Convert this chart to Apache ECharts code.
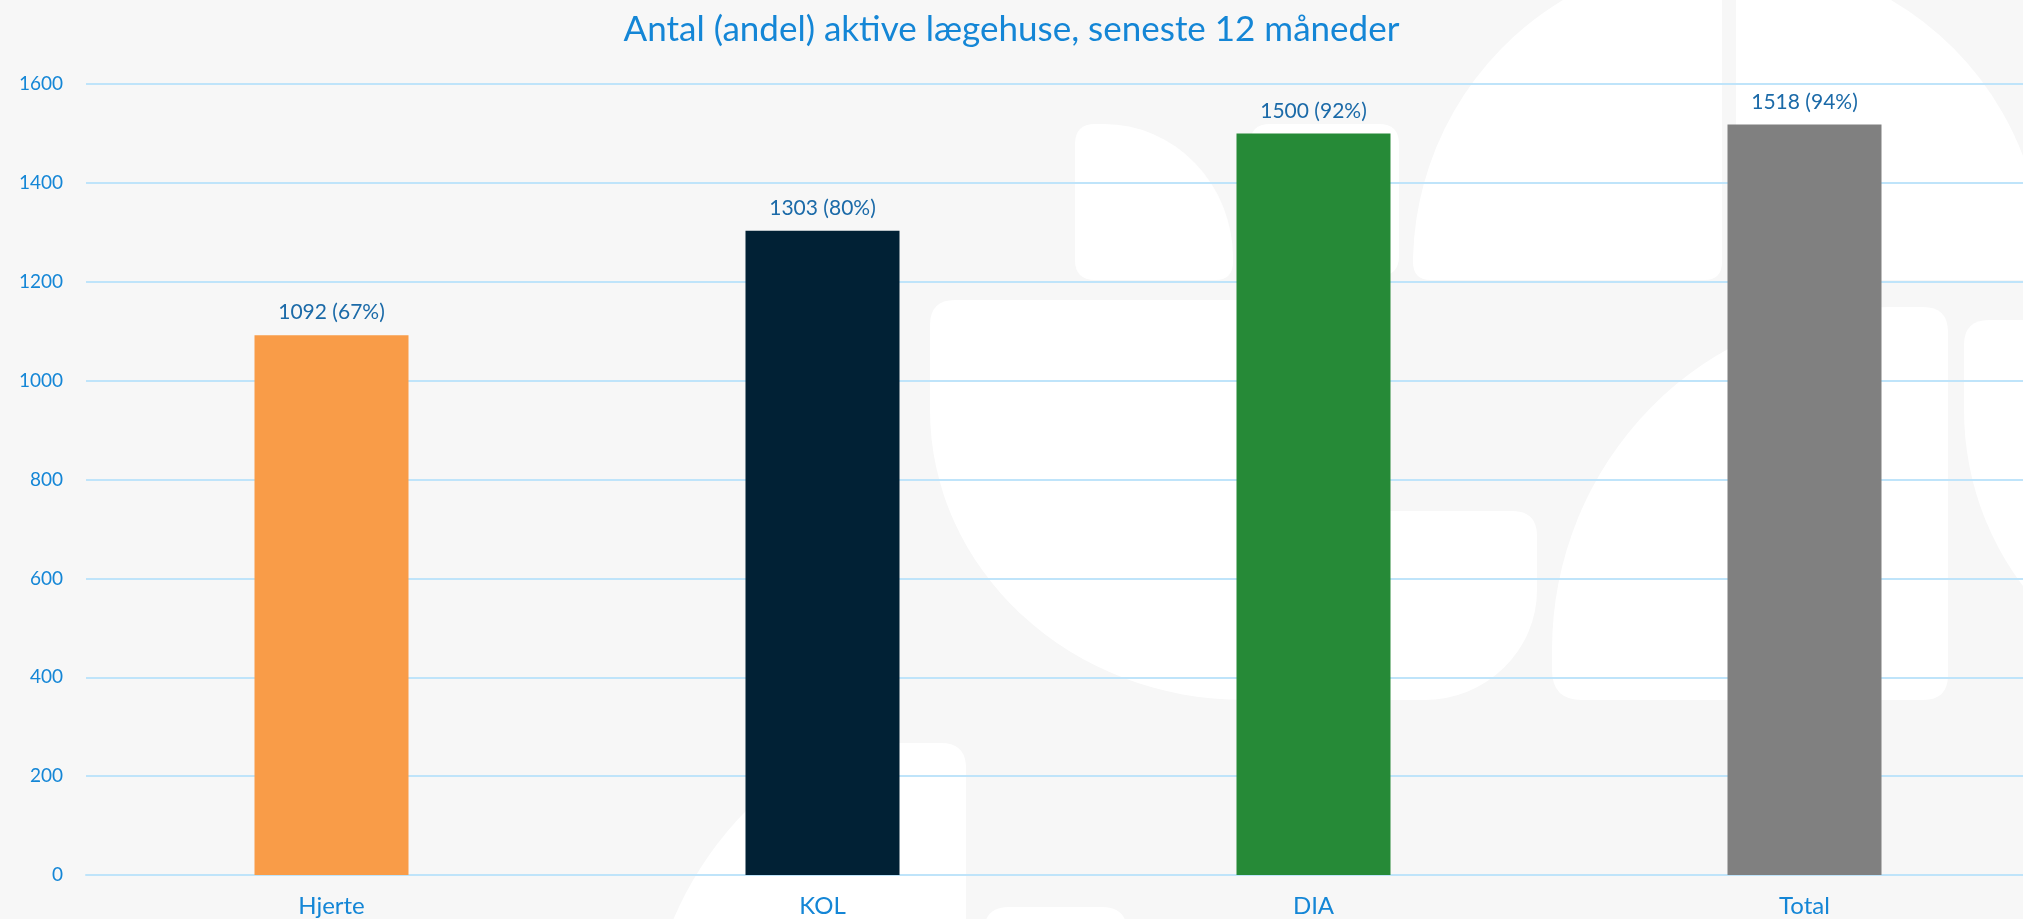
<!DOCTYPE html>
<html>
<head>
<meta charset="utf-8">
<script src="https://cdn.jsdelivr.net/npm/echarts@6/dist/echarts.min.js"></script>
<style>
  html, body { margin: 0; padding: 0; background: #f7f7f7; }
  #wrap { position: relative; width: 2023px; height: 919px; overflow: hidden; }
  #bg, #chart { position: absolute; left: 0; top: 0; width: 2023px; height: 919px; }
</style>
</head>
<body>
<div id="wrap">
  <!-- white decorative shapes behind the chart -->
  <svg id="bg" width="2023" height="919" xmlns="http://www.w3.org/2000/svg">
    <g fill="#ffffff">
      <path d="M 1095 124 L 1104 124 A 129 134 0 0 1 1233 258 L 1233 262 Q 1233 280 1215 280 L 1095 280 Q 1075 280 1075 260 L 1075 144 Q 1075 124 1095 124 Z"/>
      <path d="M 1270 124 L 1379 124 Q 1399 124 1399 144 L 1399 256 Q 1399 276 1379 276 L 1270 276 Q 1250 276 1250 256 L 1250 144 Q 1250 124 1270 124 Z"/>
      <path d="M 1563 0 A 309 309 0 0 0 1413 262 Q 1413 280 1431 280 L 1704 280 Q 1722 280 1722 262 L 1722 0 Z"/>
      <path d="M 1736 0 L 1891 0 A 307 307 0 0 1 2043 265 L 2043 280 L 1754 280 Q 1736 280 1736 262 Z"/>
      <path d="M 955 300 L 1380 300 L 1380 511 L 1512 511 Q 1537 511 1537 536 L 1537 590 A 113 110 0 0 1 1424 700 L 1244 700 A 314 290 0 0 1 930 410 L 930 325 Q 930 300 955 300 Z"/>
      <path d="M 1890 307 L 1923 307 Q 1948 307 1948 332 L 1948 675 Q 1948 700 1923 700 L 1582 700 Q 1552 700 1552 670 L 1552 650 A 338 343 0 0 1 1890 307 Z"/>
      <path d="M 1989 320 L 2300 320 L 2300 702 L 2256 702 A 292 292 0 0 1 1964 410 L 1964 345 Q 1964 320 1989 320 Z"/>
      <path d="M 838 743 L 941 743 Q 966 743 966 768 L 966 930 L 669 930 A 356 356 0 0 1 838 743 Z"/>
      <path d="M 1009 907 L 1102 907 Q 1127 907 1127 932 L 1127 940 L 984 940 L 984 932 Q 984 907 1009 907 Z"/>
    </g>
  </svg>
  <div id="chart"></div>
</div>
<script>
// data
const categories = ['Hjerte', 'KOL', 'DIA', 'Total'];
const counts = [1092, 1303, 1500, 1518];
const shares = [67, 80, 92, 94];
const yMin = 0;
const yMax = 1600;
const yStep = 200;

// colours per bar
const barColors = ['#f99c48', '#012135', '#268a37', '#808080'];
const textBlue = '#1486d6';
const gridBlue = '#bfe4fa';
const font = 'Lato';

const chart = echarts.init(document.getElementById('chart'));

chart.setOption({
  backgroundColor: 'transparent',
  animation: false,
  textStyle: { fontFamily: font },
  title: {
    text: 'Antal (andel) aktive lægehuse, seneste 12 måneder',
    left: 'center',
    top: 7,
    textStyle: { fontFamily: font, fontSize: 35, fontWeight: 'normal', color: textBlue }
  },
  // plot area runs past the right edge of the canvas, like the original
  grid: { left: 86, right: -27, top: 84, bottom: 44, outerBoundsMode: 'none' },
  xAxis: {
    type: 'category',
    data: categories,
    axisLine: { show: true, lineStyle: { color: gridBlue, width: 2 } },
    axisTick: { show: false },
    axisLabel: { color: textBlue, fontSize: 24, margin: 19, fontFamily: font }
  },
  yAxis: {
    type: 'value',
    min: yMin,
    max: yMax,
    interval: yStep,
    axisLine: { show: false },
    axisTick: { show: false },
    splitLine: { lineStyle: { color: gridBlue, width: 2 } },
    axisLabel: { color: textBlue, fontSize: 19, margin: 23, fontFamily: font, formatter: v => String(v) }
  },
  series: [{
    type: 'bar',
    data: counts.map((v, i) => ({ value: v, itemStyle: { color: barColors[i] } })),
    barWidth: 154,
    label: {
      show: true,
      position: 'top',
      distance: 12,
      color: '#1b6aa8',
      fontSize: 21,
      fontFamily: font,
      formatter: p => p.value + ' (' + shares[p.dataIndex] + '%)'
    }
  }]
});
</script>
</body>
</html>
